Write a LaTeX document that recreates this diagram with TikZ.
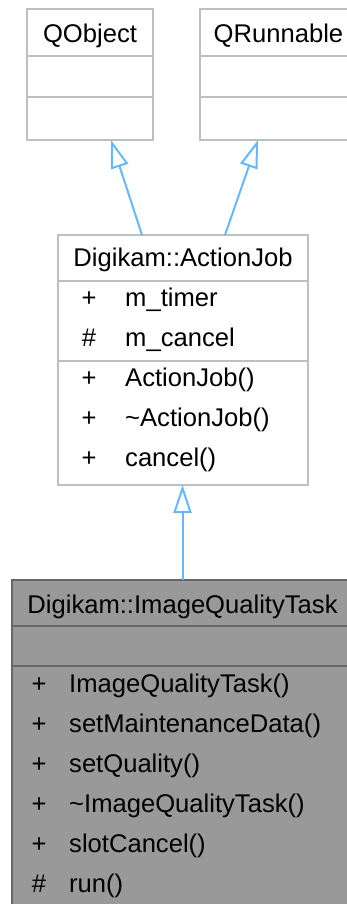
\documentclass[tikz,border=0pt]{standalone}
\usepackage{fontspec}
\setmainfont{Liberation Sans}
\usetikzlibrary{arrows.meta}
\definecolor{boxgray}{RGB}{191,191,191}
\definecolor{taskfill}{RGB}{153,153,153}
\definecolor{taskline}{RGB}{102,102,102}
\definecolor{inheritblue}{RGB}{99,184,255}

\begin{document}
\begin{tikzpicture}[x=1pt, y=-1pt, font=\fontsize{25.6}{30}\selectfont,
    classbox/.style={draw=boxgray, line width=2pt, inner sep=0pt, outer sep=0pt, anchor=north west},
    taskbox/.style={classbox, draw=taskline, fill=taskfill},
    title/.style={anchor=base, inner sep=0pt},
    member/.style={anchor=base west, inner sep=0pt},
    inherit/.style={draw=inheritblue, line width=2pt, -{Triangle[open, length=28pt, width=18pt]}}]
    % Fix the page size
    \useasboundingbox (0,0) rectangle (347,904);
    \clip (0,0) rectangle (347,904);

    % Draw the class boxes
    \node[classbox, minimum width=126pt, minimum height=131pt] (qobject)   at (27,9)   {};
    \node[classbox, minimum width=157pt, minimum height=131pt] (qrunnable) at (200,9)  {};
    \node[classbox, minimum width=250pt, minimum height=250pt] (actionjob) at (58,235) {};
    \node[taskbox,  minimum width=341pt, minimum height=340pt] (iqtask)    at (12,580) {};

    % Compartment separators
    \foreach \sy in {56,97} {
        \draw[boxgray, line width=2pt] (qobject.west |- 0,\sy) -- (qobject.east |- 0,\sy);
        \draw[boxgray, line width=2pt] (qrunnable.west |- 0,\sy) -- (qrunnable.east |- 0,\sy);
    }
    \foreach \sy in {281,361}
        \draw[boxgray, line width=2pt] (actionjob.west |- 0,\sy) -- (actionjob.east |- 0,\sy);
    \foreach \sy in {626,666}
        \draw[taskline, line width=2pt] (iqtask.west |- 0,\sy) -- (iqtask.east |- 0,\sy);

    % Class names
    \node[title] (qobject-title)   at (90,43)    {QObject};
    \node[title] (qrunnable-title) at (278.5,43) {QRunnable};
    \node[title] (actionjob-title) at (183,266)  {Digikam::ActionJob};
    \node[title] (iqtask-title)    at (182.5,613) {Digikam::ImageQualityTask};

    % Members of ActionJob
    \foreach \sym/\name [count=\i from 0] in {+/m\_timer, \#/m\_cancel, +/ActionJob(),
        +/\textasciitilde ActionJob(), +/cancel()} {
        \node[anchor=base, inner sep=0pt] (aj-sym-\i) at (89,306.5+40*\i) {\sym};
        \node[member] (aj-mem-\i) at (125,306.5+40*\i) {\name};
    }

    % Members of ImageQualityTask
    \foreach \sym/\name [count=\i from 0] in {+/ImageQualityTask(), +/setMaintenanceData(),
        +/setQuality(), +/\textasciitilde ImageQualityTask(), +/slotCancel(), \#/run()} {
        \node[anchor=base, inner sep=0pt] (iq-sym-\i) at (39,692.3+40*\i) {\sym};
        \node[member] (iq-mem-\i) at (69,692.3+40*\i) {\name};
    }

    % Inheritance arrows
    \draw[inherit] ([xshift=-41pt]actionjob.north) -- ([xshift=21pt]qobject.south);
    \draw[inherit] ([xshift=42pt]actionjob.north) -- ([xshift=-20.5pt]qrunnable.south);
    \draw[inherit] (iqtask.north) -- (iqtask.north |- actionjob.south);
\end{tikzpicture}
\end{document}
